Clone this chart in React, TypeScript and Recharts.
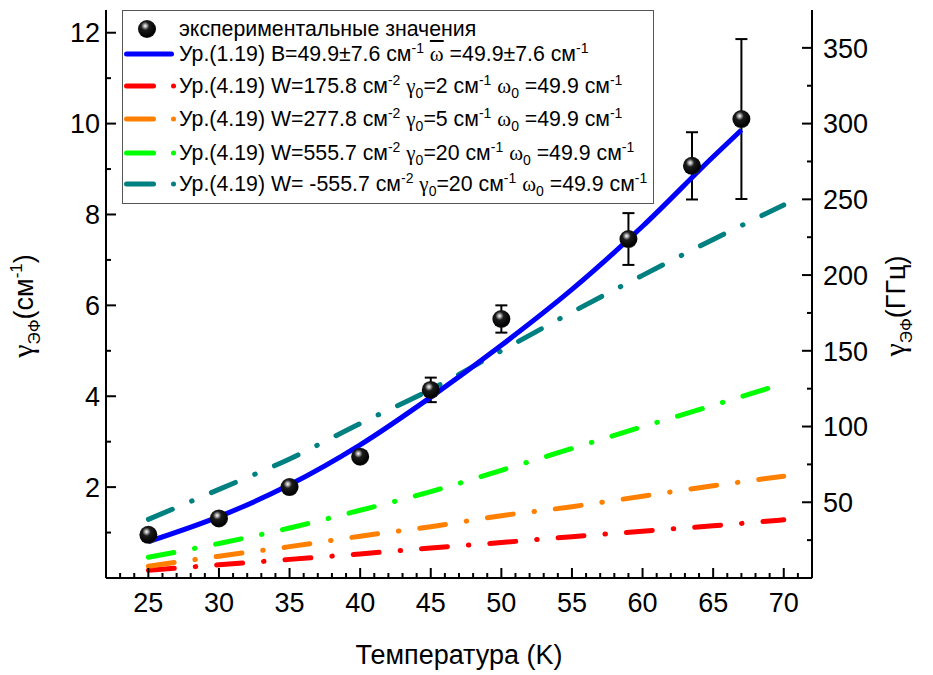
import { ComposedChart, Line, Scatter, ErrorBar, XAxis, YAxis, Legend } from 'recharts';

// experimental points (T in K, gamma in cm^-1)
const expT = [25, 30, 35, 40, 45, 50, 59, 63.5, 67];
const expGamma = [0.95, 1.31, 2.0, 2.67, 4.14, 5.7, 7.46, 9.07, 10.1];
const expErr = [0, 0, 0, 0, 0.27, 0.3, 0.57, 0.74, 1.76];

// fit Ур.(1.19)
const fitT = [25, 30, 35, 40, 45, 50, 55, 60, 65, 67];
const fitGamma = [0.8, 1.35, 2.05, 2.93, 3.98, 5.12, 6.35, 7.74, 9.27, 9.86];

// model Ур.(4.19) curves
const modelT = [25, 30, 35, 40, 45, 50, 55, 60, 65, 70];
const redW = [0.17, 0.29, 0.41, 0.53, 0.66, 0.78, 0.91, 1.03, 1.15, 1.28];
const orangeW = [0.26, 0.48, 0.69, 0.92, 1.13, 1.37, 1.57, 1.8, 2.03, 2.24];
const greenW = [0.455, 0.76, 1.1, 1.49, 1.9, 2.37, 2.85, 3.33, 3.8, 4.28];
const tealW = [1.29, 1.95, 2.62, 3.4, 4.15, 5.0, 5.85, 6.66, 7.45, 8.21];

const CM_TO_GHZ = 29.98;

const xTicks = Array.from({ length: 51 }, (_, i) => 22 + i);
const yTicks = [1, 2, 3, 4, 5, 6, 7, 8, 9, 10, 11, 12];
const ghzTicks = [25, 50, 75, 100, 125, 150, 175, 200, 225, 250, 275, 300, 325, 350];

const expRows = expT.map((t, i) => ({ T: t, g: expGamma[i], err: expErr[i], ghz: expGamma[i] * CM_TO_GHZ }));
const fitRows = fitT.map((t, i) => ({ T: t, fit: fitGamma[i] }));
const modelRows = modelT.map((t, i) => ({
  T: t, red: redW[i], orange: orangeW[i], green: greenW[i], teal: tealW[i],
}));

const FONT = '"Liberation Sans", Arial, sans-serif';
const SERIF = '"Liberation Serif", "Times New Roman", serif';
const DASH = '26 21 0.5 21';

const XTick = (props: any) => {
  const { x, y, payload } = props;
  const major = payload.value % 5 === 0;
  return (
    <g>
      <line x1={x} y1={y} x2={x} y2={y - (major ? 10 : 5)} stroke="#000" strokeWidth={2} />
      {major && (
        <text x={x} y={y + 34} textAnchor="middle" fontSize={27} fontFamily={FONT} fill="#000">
          {payload.value}
        </text>
      )}
    </g>
  );
};

const LeftTick = (props: any) => {
  const { x, y, payload } = props;
  const major = payload.value % 2 === 0;
  return (
    <g>
      <line x1={x} y1={y} x2={x + (major ? 10 : 5)} y2={y} stroke="#000" strokeWidth={2} />
      {major && (
        <text x={x - 6} y={y} dy="0.36em" textAnchor="end" fontSize={27} fontFamily={FONT} fill="#000">
          {payload.value}
        </text>
      )}
    </g>
  );
};

const RightTick = (props: any) => {
  const { x, y, payload } = props;
  const major = payload.value % 50 === 0;
  return (
    <g>
      <line x1={x} y1={y} x2={x - (major ? 10 : 5)} y2={y} stroke="#000" strokeWidth={2} />
      {major && (
        <text x={x + 11} y={y} dy="0.36em" textAnchor="start" fontSize={27} fontFamily={FONT} fill="#000">
          {payload.value}
        </text>
      )}
    </g>
  );
};

const Sphere = (props: any) => {
  const { cx, cy } = props;
  return (
    <g>
      <defs>
        <radialGradient id="sph" cx="0.4" cy="0.33" r="0.72">
          <stop offset="0" stopColor="#ffffff" />
          <stop offset="0.12" stopColor="#b0b0b0" />
          <stop offset="0.32" stopColor="#1c1c1c" />
          <stop offset="0.85" stopColor="#000000" />
          <stop offset="1" stopColor="#3a3a3a" />
        </radialGradient>
      </defs>
      <circle cx={cx} cy={cy} r={9} fill="url(#sph)" />
    </g>
  );
};

const LeftTitle = (props: any) => {
  const vb = props.viewBox || { x: 0, y: 10, width: 106, height: 568 };
  const cx = vb.x + 33;
  const cy = vb.y + vb.height / 2 + 12;
  return (
    <text transform={`translate(${cx},${cy}) rotate(-90)`} textAnchor="middle" fontSize={27} fontFamily={FONT} fill="#000">
      <tspan fontFamily={SERIF} fontSize={30}>γ</tspan>
      <tspan fontSize={17} dy={7}>ЭФ</tspan>
      <tspan dy={-7}>(см</tspan>
      <tspan fontSize={17} dy={-11}>-1</tspan>
      <tspan dy={11}>)</tspan>
    </text>
  );
};

const RightTitle = (props: any) => {
  const vb = props.viewBox || { x: 812, y: 10, width: 121, height: 568 };
  const cx = vb.x + 93;
  const cy = vb.y + vb.height / 2 + 12;
  return (
    <text transform={`translate(${cx},${cy}) rotate(-90)`} textAnchor="middle" fontSize={27} fontFamily={FONT} fill="#000">
      <tspan fontFamily={SERIF} fontSize={30}>γ</tspan>
      <tspan fontSize={17} dy={7}>ЭФ</tspan>
      <tspan dy={-7}>(ГГц)</tspan>
    </text>
  );
};

const BottomTitle = (props: any) => {
  const vb = props.viewBox || { x: 106, y: 578, width: 706, height: 97 };
  return (
    <text x={vb.x + vb.width / 2} y={vb.y + 86} textAnchor="middle" fontSize={27} fontFamily={FONT} fill="#000">
      Температура (K)
    </text>
  );
};

const sub = { fontSize: 14, verticalAlign: 'sub' as const, lineHeight: 0 };
const sup = { fontSize: 14, verticalAlign: 'super' as const, lineHeight: 0 };
const greek = { fontFamily: SERIF, fontSize: 21 };

const LineSample = ({ color, solid }: { color: string; solid?: boolean }) => (
  <svg width={56} height={26} style={{ position: 'absolute', left: 0, top: 0 }}>
    {solid ? (
      <line x1={3.5} y1={13} x2={48.5} y2={13} stroke={color} strokeWidth={5} strokeLinecap="round" />
    ) : (
      <>
        <line x1={3.5} y1={13} x2={30.5} y2={13} stroke={color} strokeWidth={5} strokeLinecap="round" />
        <circle cx={50.5} cy={13} r={2.5} fill={color} />
      </>
    )}
  </svg>
);

const Row = ({ top, children, sample }: { top: number; children: any; sample: any }) => (
  <div style={{ position: 'absolute', left: 0, top: top - 13, height: 26, width: 530, whiteSpace: 'nowrap' }}>
    {sample}
    <div style={{ position: 'absolute', left: 56, top: 0, lineHeight: '26px', fontSize: 21.3 }}>{children}</div>
  </div>
);

const model = (w: string, g0: string) => (
  <>
    Ур.(4.19) W={w} см<span style={sup}>-2</span> <span style={greek}>γ</span><span style={sub}>0</span>={g0} см
    <span style={sup}>-1</span> <span style={greek}>ω</span><span style={sub}>0</span> =49.9 см<span style={sup}>-1</span>
  </>
);

const LegendBox = () => (
  <div
    style={{
      position: 'relative', width: 532, height: 194, boxSizing: 'border-box',
      border: '1.5px solid #555', background: '#fff', fontFamily: FONT, color: '#000',
    }}
  >
    <Row
      top={18}
      sample={
        <svg width={56} height={26} style={{ position: 'absolute', left: 0, top: 0 }}>
          <Sphere cx={24} cy={13} />
        </svg>
      }
    >
      экспериментальные значения
    </Row>
    <Row top={43} sample={<LineSample color="#0000ff" solid />}>
      Ур.(1.19) B=49.9±7.6 см<span style={sup}>-1</span>{' '}
      <span style={{ ...greek, textDecoration: 'overline' }}>ω</span> =49.9±7.6 см<span style={sup}>-1</span>
    </Row>
    <Row top={75} sample={<LineSample color="#ff0000" />}>{model('175.8', '2')}</Row>
    <Row top={108} sample={<LineSample color="#ff8000" />}>{model('277.8', '5')}</Row>
    <Row top={142} sample={<LineSample color="#00ff00" />}>{model('555.7', '20')}</Row>
    <Row top={173} sample={<LineSample color="#008080" />}>{model(' -555.7', '20')}</Row>
  </div>
);

export default function App() {
  return (
    <div style={{ position: 'absolute', left: 0, top: 0, background: '#fff' }}>
      <ComposedChart width={933} height={675} margin={{ top: 10, right: 0, bottom: 0, left: 0 }}>
        <XAxis
          xAxisId="bottom"
          dataKey="T"
          type="number"
          domain={[22, 72]}
          ticks={xTicks}
          interval={0}
          height={97}
          tickSize={0}
          tickMargin={0}
          tickLine={false}
          axisLine={{ stroke: '#000', strokeWidth: 2 }}
          tick={<XTick />}
          label={{ content: <BottomTitle /> } as any}
        />
        <XAxis
          xAxisId="top"
          dataKey="T"
          type="number"
          orientation="top"
          domain={[22, 72]}
          height={0}
          tick={false}
          tickLine={false}
          axisLine={{ stroke: '#000', strokeWidth: 2 }}
        />
        <YAxis
          yAxisId="left"
          type="number"
          domain={[0, 12.5]}
          ticks={yTicks}
          interval={0}
          width={106}
          tickSize={0}
          tickMargin={0}
          tickLine={false}
          axisLine={{ stroke: '#000', strokeWidth: 2 }}
          tick={<LeftTick />}
          label={{ content: <LeftTitle /> } as any}
        />
        <YAxis
          yAxisId="right"
          orientation="right"
          type="number"
          domain={[0, 375]}
          ticks={ghzTicks}
          interval={0}
          width={121}
          tickSize={0}
          tickMargin={0}
          tickLine={false}
          axisLine={{ stroke: '#000', strokeWidth: 2 }}
          tick={<RightTick />}
          label={{ content: <RightTitle /> } as any}
        />
        <Legend
          content={() => <LegendBox />}
          layout="vertical"
          align="center"
          verticalAlign="middle"
          wrapperStyle={{ left: 122, top: 10, width: 532, height: 194 }}
        />
        {/* same points in GHz, invisible: binds the right (GHz) and top axes */}
        <Line xAxisId="top" yAxisId="right" data={expRows} dataKey="ghz" stroke="none" dot={false}
          activeDot={false} legendType="none" isAnimationActive={false} />
        <Scatter
          xAxisId="bottom"
          yAxisId="left"
          data={expRows}
          dataKey="g"
          shape={<Sphere />}
          isAnimationActive={false}
        >
          <ErrorBar dataKey="err" direction="y" width={6} strokeWidth={2} stroke="#000" />
        </Scatter>
        <Line xAxisId="bottom" yAxisId="left" data={modelRows} dataKey="red" type="monotone" stroke="#ff0000"
          strokeWidth={5} strokeDasharray={DASH} strokeLinecap="round" dot={false} isAnimationActive={false} />
        <Line xAxisId="bottom" yAxisId="left" data={modelRows} dataKey="orange" type="monotone" stroke="#ff8000"
          strokeWidth={5} strokeDasharray={DASH} strokeLinecap="round" dot={false} isAnimationActive={false} />
        <Line xAxisId="bottom" yAxisId="left" data={modelRows} dataKey="green" type="monotone" stroke="#00ff00"
          strokeWidth={5} strokeDasharray={DASH} strokeLinecap="round" dot={false} isAnimationActive={false} />
        <Line xAxisId="bottom" yAxisId="left" data={modelRows} dataKey="teal" type="monotone" stroke="#008080"
          strokeWidth={5} strokeDasharray={DASH} strokeLinecap="round" dot={false} isAnimationActive={false} />
        <Line xAxisId="bottom" yAxisId="left" data={fitRows} dataKey="fit" type="monotone" stroke="#0000ff"
          strokeWidth={5} dot={false} isAnimationActive={false} />
      </ComposedChart>
    </div>
  );
}
